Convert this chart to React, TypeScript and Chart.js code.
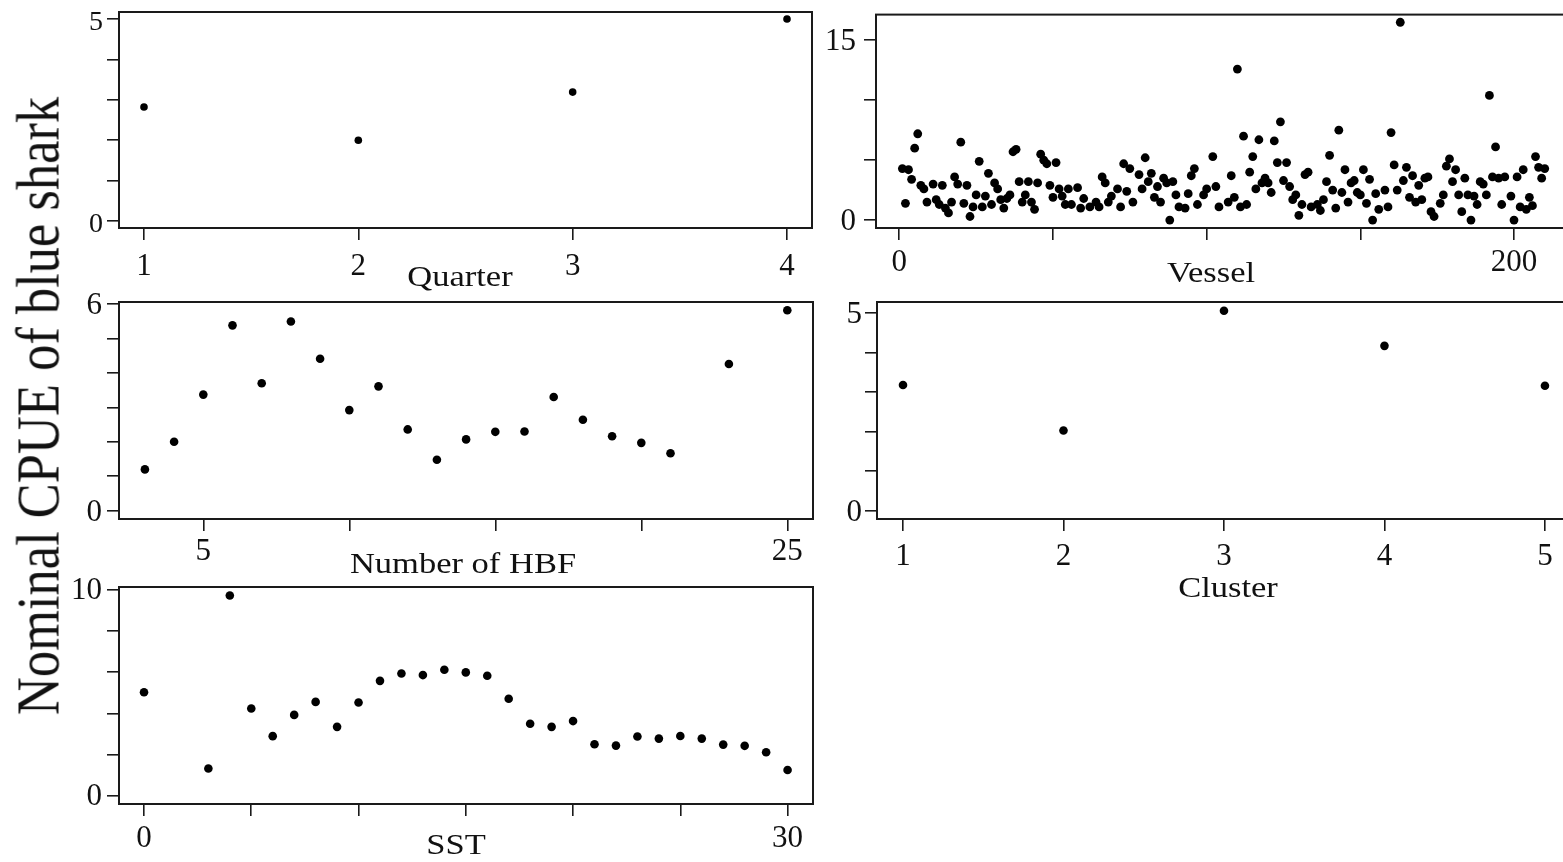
import React, { useEffect, useRef } from "react";
import { Chart, registerables } from "chart.js";

Chart.register(...registerables);

// ---------- data ----------
const quarterX = [1, 2, 3, 4];
const quarterY = [2.82, 2.0, 3.19, 5.0];

const vesselX = [
  1, 2, 3, 4, 5, 6, 7, 8, 9, 11, 12, 13, 14, 15, 16, 17, 18, 19, 20, 21, 22, 23, 24, 25, 26, 27, 28, 29, 30,
  31, 32, 33, 34, 35, 36, 37, 38, 39, 40, 41, 42, 43, 44, 45, 46, 47, 48, 49, 50, 51, 52, 53, 54, 55, 56, 58,
  59, 60, 62, 64, 65, 66, 67, 68, 69, 71, 72, 73, 74, 75, 76, 78, 79, 80, 81, 82, 83, 84, 85, 86, 87, 88, 89,
  90, 91, 93, 94, 95, 96, 97, 99, 100, 102, 103, 104, 107, 108, 109, 110, 111, 112, 113, 114, 115, 116, 117,
  118, 119, 120, 121, 122, 123, 124, 125, 126, 127, 128, 129, 130, 131, 132, 133, 134, 136, 137, 138, 139,
  140, 141, 142, 143, 144, 145, 146, 147, 148, 149, 150, 151, 152, 153, 154, 155, 156, 158, 159, 160, 161,
  162, 163, 164, 165, 166, 167, 168, 169, 170, 171, 172, 173, 174, 176, 177, 178, 179, 180, 181, 182, 183,
  184, 185, 186, 187, 188, 189, 190, 191, 192, 193, 194, 195, 196, 197, 199, 200, 201, 202, 203, 204, 205,
  206, 207, 208, 209, 210,
];
const vesselY = [
  4.3, 1.4, 4.2, 3.4, 6.0, 7.2, 2.9, 2.6, 1.5, 3.0, 1.7, 1.3, 2.9, 1.0, 0.6, 1.5, 3.6, 3.0, 6.5, 1.4, 2.9, 0.3,
  1.1, 2.1, 4.9, 1.1, 2.0, 3.9, 1.3, 3.1, 2.6, 1.7, 1.0, 1.8, 2.1, 5.7, 5.9, 3.2, 1.5, 2.1, 3.2, 1.5, 0.9, 3.1,
  5.5, 5.0, 4.7, 2.9, 1.9, 4.8, 2.6, 2.0, 1.3, 2.6, 1.3, 2.7, 1.0, 1.8, 1.1, 1.5, 1.1, 3.6, 3.1, 1.5, 2.0, 2.6,
  1.1, 4.7, 2.4, 4.3, 1.5, 3.8, 2.6, 5.2, 3.2, 3.9, 1.9, 2.8, 1.5, 3.5, 3.1, 0.0, 3.2, 2.1, 1.1, 1.0, 2.2, 3.7,
  4.3, 1.3, 2.1, 2.6, 5.3, 2.8, 1.1, 1.5, 3.7, 1.9, 12.6, 1.1, 7.0, 1.3, 4.0, 5.3, 2.6, 6.7, 3.1, 3.5, 3.1,
  2.3, 6.6, 4.8, 8.2, 3.3, 4.8, 2.8, 1.7, 2.1, 0.4, 1.3, 3.8, 4.0, 1.1, 1.3, 0.8, 1.7, 3.2, 5.4, 2.5, 1.0, 7.5,
  2.3, 4.2, 1.5, 3.1, 3.3, 2.3, 2.1, 4.2, 1.4, 3.4, 0.0, 2.2, 0.9, 2.5, 1.1, 7.3, 4.6, 2.5, 16.5, 3.3, 4.4,
  1.9, 3.7, 1.5, 2.9, 1.7, 3.5, 3.6, 0.7, 0.3, 1.4, 2.1, 4.5, 5.1, 3.2, 4.2, 2.1, 0.7, 3.5, 2.1, 0.0, 2.0, 1.3,
  3.2, 3.0, 2.1, 10.4, 3.6, 6.1, 3.5, 1.3, 3.6, 2.0, 0.0, 3.6, 1.1, 4.2, 0.9, 1.9, 1.2, 5.3, 4.4, 3.5, 4.3,
];

const hbfX = [3, 4, 5, 6, 7, 8, 9, 10, 11, 12, 13, 14, 15, 16, 17, 18, 19, 20, 21, 23, 25];
const hbfY = [1.2, 2.0, 3.37, 5.38, 3.7, 5.49, 4.41, 2.92, 3.61, 2.36, 1.48, 2.07, 2.29, 2.3, 3.3, 2.64, 2.16, 1.97, 1.67, 4.26, 5.82];

const clusterX = [1, 2, 3, 4, 5];
const clusterY = [3.18, 2.03, 5.06, 4.17, 3.16];

const sstX = [0, 3, 4, 5, 6, 7, 8, 9, 10, 11, 12, 13, 14, 15, 16, 17, 18, 19, 20, 21, 22, 23, 24, 25, 26, 27, 28, 29, 30];
const sstY = [
  5.03, 1.33, 9.72, 4.24, 2.9, 3.93, 4.56, 3.35, 4.53, 5.58, 5.94, 5.86, 6.12, 5.99, 5.83, 4.71, 3.5, 3.35, 3.63,
  2.51, 2.44, 2.88, 2.78, 2.91, 2.78, 2.49, 2.43, 2.12, 1.26,
];

// ---------- ticks ----------
const quarterXTicks = [1, 2, 3, 4];
const quarterXLabels = ["1", "2", "3", "4"];
const quarterYTicks = [0, 1, 2, 3, 4, 5];
const quarterYLabels = ["0", "", "", "", "", "5"];

const vesselXTicks = [0, 50, 100, 150, 200];
const vesselXLabels = ["0", "", "", "", "200"];
const vesselYTicks = [0, 5, 10, 15];
const vesselYLabels = ["0", "", "", "15"];

const hbfXTicks = [5, 10, 15, 20, 25];
const hbfXLabels = ["5", "", "", "", "25"];
const hbfYTicks = [0, 1, 2, 3, 4, 5, 6];
const hbfYLabels = ["0", "", "", "", "", "", "6"];

const clusterXTicks = [1, 2, 3, 4, 5];
const clusterXLabels = ["1", "2", "3", "4", "5"];
const clusterYTicks = [0, 1, 2, 3, 4, 5];
const clusterYLabels = ["0", "", "", "", "", "5"];

const sstXTicks = [0, 5, 10, 15, 20, 25, 30];
const sstXLabels = ["0", "", "", "", "", "", "30"];
const sstYTicks = [0, 2, 4, 6, 8, 10];
const sstYLabels = ["0", "", "", "", "", "10"];

const yTitle = "Nominal CPUE of blue shark";

// ---------- layout ----------
const PADL = 70;
const PADT = 24;
const PADR = 40;
const PADB = 70;
const SERIF = "'Liberation Serif', 'Times New Roman', serif";
const INK = "#111";

type Panel = {
  xs: number[];
  ys: number[];
  box: { l: number; t: number; r: number; b: number };
  xr: [number, number];
  yr: [number, number];
  xt: number[];
  xl: string[];
  yt: number[];
  yl: string[];
  xPad: number;
  yOff: number;
  ySize: number;
  yPad: number;
  dot: number;
};

const PANELS: Panel[] = [
  {
    xs: quarterX, ys: quarterY,
    box: { l: 119, t: 12, r: 812, b: 228 },
    xr: [0.8834, 4.1166], yr: [-0.173, 5.173],
    xt: quarterXTicks, xl: quarterXLabels, yt: quarterYTicks, yl: quarterYLabels,
    xPad: 8.5, yOff: 4, ySize: 28, yPad: 4, dot: 3.8,
  },
  {
    xs: vesselX, ys: vesselY,
    box: { l: 876, t: 12, r: 1600, b: 228 },
    xr: [-7.58, 227.98], yr: [-0.66, 17.14],
    xt: vesselXTicks, xl: vesselXLabels, yt: vesselYTicks, yl: vesselYLabels,
    xPad: 4.5, yOff: 2, ySize: 31, yPad: 8, dot: 4.4,
  },
  {
    xs: hbfX, ys: hbfY,
    box: { l: 119, t: 302, r: 813, b: 519 },
    xr: [2.113, 25.88], yr: [-0.24, 6.058],
    xt: hbfXTicks, xl: hbfXLabels, yt: hbfYTicks, yl: hbfYLabels,
    xPad: 2.5, yOff: 2, ySize: 31, yPad: 5, dot: 4.3,
  },
  {
    xs: clusterX, ys: clusterY,
    box: { l: 877, t: 302, r: 1600, b: 519 },
    xr: [0.838, 5.343], yr: [-0.21, 5.28],
    xt: clusterXTicks, xl: clusterXLabels, yt: clusterYTicks, yl: clusterYLabels,
    xPad: 7.5, yOff: 2, ySize: 31, yPad: 3, dot: 4.3,
  },
  {
    xs: sstX, ys: sstY,
    box: { l: 119, t: 587, r: 813, b: 804 },
    xr: [-1.166, 31.185], yr: [-0.39, 10.13],
    xt: sstXTicks, xl: sstXLabels, yt: sstYTicks, yl: sstYLabels,
    xPad: 4, yOff: 1, ySize: 31, yPad: 5, dot: 4.3,
  },
];

const TITLES = [
  { text: "Quarter", x: 460, y: 276 },
  { text: "Vessel", x: 1211, y: 272 },
  { text: "Number of HBF", x: 463, y: 563 },
  { text: "Cluster", x: 1228, y: 587 },
  { text: "SST", x: 456, y: 844 },
];

const boxPlugin = {
  id: "frameBox",
  afterDraw(chart: any) {
    const { ctx, chartArea: a } = chart;
    ctx.save();
    ctx.strokeStyle = "#1a1a1a";
    ctx.lineWidth = 2;
    ctx.strokeRect(a.left, a.top, a.right - a.left, a.bottom - a.top);
    ctx.restore();
  },
};

function makeChart(canvas: HTMLCanvasElement, p: Panel) {
  const data = p.xs.map((x, i) => ({ x, y: p.ys[i] }));
  return new Chart(canvas, {
    type: "scatter",
    data: {
      datasets: [
        {
          data,
          backgroundColor: "#000",
          borderColor: "#000",
          borderWidth: 0,
          pointRadius: p.dot,
          pointHoverRadius: p.dot,
        },
      ],
    },
    options: {
      responsive: false,
      animation: false,
      events: [],
      layout: { padding: { top: PADT, right: PADR, left: 0, bottom: 0 } },
      plugins: { legend: { display: false }, tooltip: { enabled: false } },
      scales: {
        x: {
          type: "linear",
          min: p.xr[0],
          max: p.xr[1],
          afterBuildTicks: (s: any) => {
            s.ticks = p.xt.map((v) => ({ value: v }));
          },
          afterFit: (s: any) => {
            s.height = PADB;
          },
          ticks: {
            autoSkip: false,
            maxRotation: 0,
            padding: p.xPad,
            color: INK,
            font: { family: SERIF, size: 31 },
            callback: (_v: any, i: number) => p.xl[i],
          },
          grid: {
            display: true,
            drawOnChartArea: false,
            drawTicks: true,
            tickLength: 12,
            color: "#1a1a1a",
            lineWidth: 1.6,
          },
          border: { display: false },
        },
        y: {
          type: "linear",
          min: p.yr[0],
          max: p.yr[1],
          afterBuildTicks: (s: any) => {
            s.ticks = p.yt.map((v) => ({ value: v }));
          },
          afterFit: (s: any) => {
            s.width = PADL;
          },
          ticks: {
            autoSkip: false,
            padding: p.yPad,
            labelOffset: p.yOff,
            color: INK,
            font: { family: SERIF, size: p.ySize },
            callback: (_v: any, i: number) => p.yl[i],
          },
          grid: {
            display: true,
            drawOnChartArea: false,
            drawTicks: true,
            tickLength: 12,
            color: "#1a1a1a",
            lineWidth: 1.6,
          },
          border: { display: false },
        },
      },
    },
    plugins: [boxPlugin],
  } as any);
}

export default function App() {
  const refs = useRef<(HTMLCanvasElement | null)[]>([]);

  useEffect(() => {
    const charts = PANELS.map((p, i) => makeChart(refs.current[i] as HTMLCanvasElement, p));
    return () => {
      charts.forEach((c) => c.destroy());
    };
  }, []);

  return (
    <div
      style={{
        position: "fixed",
        left: 0,
        top: 0,
        width: 1563,
        height: 862,
        overflow: "hidden",
        background: "#fff",
      }}
    >
      {PANELS.map((p, i) => {
        const w = p.box.r - p.box.l + PADL + PADR;
        const h = p.box.b - p.box.t + PADT + PADB;
        return (
          <canvas
            key={i}
            ref={(el) => {
              refs.current[i] = el;
            }}
            width={w}
            height={h}
            style={{
              position: "absolute",
              left: p.box.l - PADL,
              top: p.box.t - PADT,
              width: w,
              height: h,
            }}
          />
        );
      })}
      {TITLES.map((t) => (
        <div
          key={t.text}
          style={{
            position: "absolute",
            left: t.x,
            top: t.y,
            transform: "translate(-50%, -50%) scaleX(1.15)",
            fontFamily: SERIF,
            fontSize: 30,
            color: INK,
            whiteSpace: "nowrap",
            lineHeight: "normal",
          }}
        >
          {t.text}
        </div>
      ))}
      <div
        style={{
          position: "absolute",
          left: 38,
          top: 406,
          transform: "translate(-50%, -50%) scaleX(1.15) rotate(-90deg)",
          fontFamily: SERIF,
          fontSize: 52.5,
          color: INK,
          whiteSpace: "nowrap",
          lineHeight: "normal",
        }}
      >
        {yTitle}
      </div>
    </div>
  );
}
